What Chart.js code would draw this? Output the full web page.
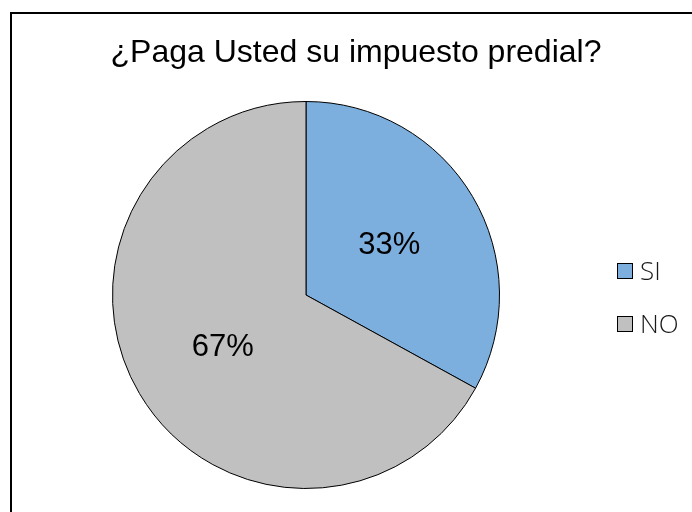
<!DOCTYPE html>
<html>
<head>
<meta charset="utf-8">
<script src="https://cdn.jsdelivr.net/npm/chart.js@4"></script>
<style>
  body { margin: 0; background: #fff; overflow: hidden; }
  #wrap { position: relative; width: 692px; height: 512px; overflow: hidden; }
  #frame { position: absolute; left: 10px; top: 12px; width: 700px; height: 520px; border: 2px solid #000; box-sizing: border-box; }
  #graph { position: absolute; left: 0; top: 0; }
</style>
</head>
<body>
<div id="wrap">
  <div id="frame"></div>
  <canvas id="graph" width="692" height="512"></canvas>
</div>
<script>
const titre = "¿Paga Usted su impuesto predial?"
const categories = ["SI", "NO"]
const valeurs = [33, 67]
const couleurs = ["#7cafde", "#c0c0c0"]

// titre, etiquettes et legende dessines a la main pour coller au modele
const dessins = {
  id: "dessins",
  afterDatasetsDraw(chart) {
    const ctx = chart.ctx
    ctx.save()
    ctx.fillStyle = "#000"
    ctx.textAlign = "center"
    ctx.textBaseline = "middle"
    ctx.font = "31px 'Liberation Sans', Arial, sans-serif"
    chart.getDatasetMeta(0).data.forEach((arc, i) => {
      const p = arc.tooltipPosition()
      ctx.fillText(valeurs[i] + "%", p.x, p.y + (i == 1 ? 3 : 0))
    })

    ctx.textBaseline = "alphabetic"
    ctx.font = "32px 'Liberation Sans', Arial, sans-serif"
    ctx.fillText(titre, 356, 62)

    ctx.textAlign = "left"
    ctx.font = "300 26px 'Open Sans', sans-serif"
    categories.forEach((c, i) => {
      const y = 263 + i * 53
      ctx.fillStyle = couleurs[i]
      ctx.fillRect(617, y, 15, 15)
      ctx.strokeStyle = "#000"
      ctx.lineWidth = 1
      ctx.strokeRect(617.5, y + 0.5, 15, 15)
      ctx.fillStyle = "#1a1a1a"
      ctx.fillText(c, 640, y + 17)
    })
    ctx.restore()
  }
}

const graph = document.getElementById("graph")
const graphChart = new Chart(graph, {
  type: "pie",
  data: {
    labels: categories,
    datasets: [{
      data: valeurs,
      backgroundColor: couleurs,
      borderColor: "#000",
      borderWidth: 1
    }]
  },
  options: {
    responsive: false,
    animation: false,
    layout: { padding: { left: 112, right: 192, top: 101, bottom: 23 } },
    plugins: {
      legend: { display: false },
      title: { display: false },
      tooltip: { enabled: false }
    }
  },
  plugins: [dessins]
})
</script>
</body>
</html>
